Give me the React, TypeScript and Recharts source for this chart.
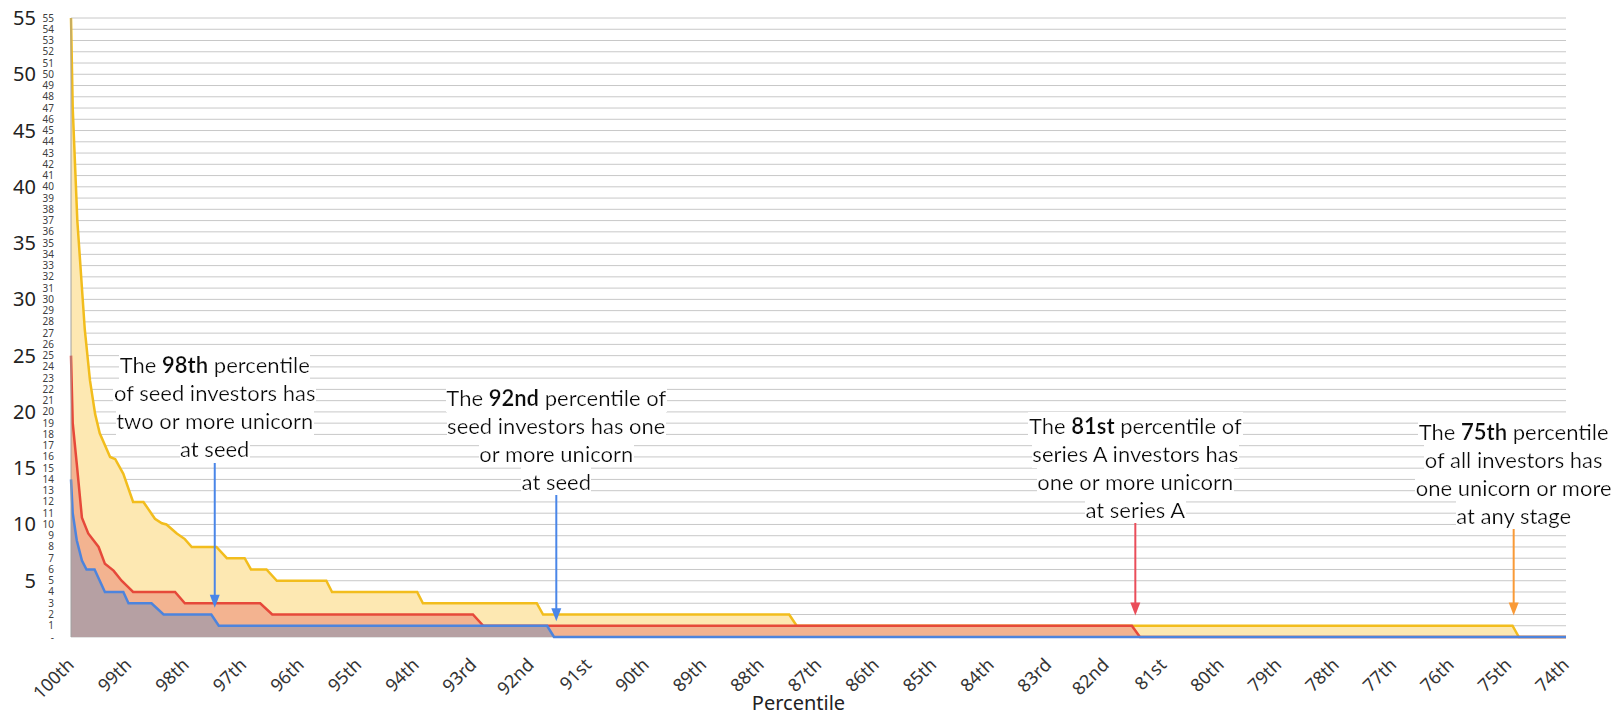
import { AreaChart, Area, XAxis, YAxis, CartesianGrid, ReferenceLine, ReferenceDot } from 'recharts';

// percentile breakpoints (x) and unicorn counts (y)
const allPct = [100, 99.97, 99.89, 99.76, 99.67, 99.58, 99.5, 99.32, 99.23, 99.09, 98.92, 98.74, 98.54, 98.42, 98.34, 98.16, 98.02, 97.9, 97.47, 97.29, 96.98, 96.87, 96.6, 96.42, 95.56, 95.46, 93.98, 93.88, 91.9, 91.79, 87.51, 87.38, 74.93, 74.82, 74];
const allVal = [55, 47, 37, 27.3, 22.8, 19.8, 18.1, 16, 15.8, 14.5, 12, 12, 10.5, 10.1, 10, 9.2, 8.7, 8, 8, 7, 7, 6, 6, 5, 5, 4, 4, 3, 3, 2, 2, 1, 1, 0, 0];

const seriesAPct = [100, 99.97, 99.9, 99.81, 99.7, 99.52, 99.41, 99.26, 99.12, 99.0, 98.92, 98.19, 98.02, 96.71, 96.5, 93.01, 92.83, 81.55, 81.41, 74];
const seriesAVal = [25, 19, 15.4, 10.6, 9.2, 8, 6.5, 5.9, 5, 4.4, 4, 4, 3, 3, 2, 2, 1, 1, 0, 0];

const seedPct = [100, 99.97, 99.9, 99.81, 99.73, 99.59, 99.41, 99.09, 99.0, 98.6, 98.39, 97.56, 97.43, 91.72, 91.6, 74];
const seedVal = [14, 11, 8.6, 6.8, 6, 6, 4, 4, 3, 3, 2, 2, 1, 1, 0, 0];

const xTicks = [100, 99, 98, 97, 96, 95, 94, 93, 92, 91, 90, 89, 88, 87, 86, 85, 84, 83, 82, 81, 80, 79, 78, 77, 76, 75, 74];
const yTicks = Array.from({ length: 56 }, (_, i) => i);

const notes = [
  { pct: 97.5, top: 24.1, arrowTop: 16.2, tip: 2.6, color: '#4a86e8', head: ['The ', '98th', ' percentile'], rest: ['of seed investors has', 'two or more unicorn', 'at seed'] },
  { pct: 91.56, top: 21.2, arrowTop: 13.4, tip: 1.4, color: '#4a86e8', head: ['The ', '92nd', ' percentile of'], rest: ['seed investors has one', 'or more unicorn', 'at seed'] },
  { pct: 81.49, top: 18.7, arrowTop: 10.8, tip: 1.9, color: '#ea4d5a', head: ['The ', '81st', ' percentile of'], rest: ['series A investors has', 'one or more unicorn', 'at series A'] },
  { pct: 74.91, top: 18.2, arrowTop: 10.2, tip: 1.9, color: '#f99a37', head: ['The ', '75th', ' percentile'], rest: ['of all investors has', 'one unicorn or more', 'at any stage'] },
];

const rowMap = new Map<number, any>();
const put = (pcts: number[], vals: number[], key: string) => {
  pcts.forEach((p, i) => {
    const row = rowMap.get(p) || { pct: p };
    row[key] = vals[i];
    rowMap.set(p, row);
  });
};
put(allPct, allVal, 'all');
put(seriesAPct, seriesAVal, 'seriesA');
put(seedPct, seedVal, 'seed');
const data = Array.from(rowMap.values()).sort((a, b) => b.pct - a.pct);

const ordinal = (n: number) => {
  const r = n % 10;
  if (r === 1 && n !== 11) return n + 'st';
  if (r === 2 && n !== 12) return n + 'nd';
  if (r === 3 && n !== 13) return n + 'rd';
  return n + 'th';
};

const FONT = '"Noto Sans", sans-serif';
const NOTE_FONT = 'Lato, sans-serif';

const XTick = ({ x, y, payload }: any) => {
  const ax = x + 4;
  const ay = y + 21;
  return (
    <text x={ax} y={ay} transform={`rotate(-45 ${ax} ${ay})`} textAnchor="end" fontSize={18} fill="#333" fontFamily={FONT}>
      {ordinal(payload.value)}
    </text>
  );
};

const YTick = ({ y, payload }: any) => {
  const v = payload.value;
  return (
    <g fontFamily={FONT}>
      <text x={54} y={y} dy={3.5} textAnchor="end" fontSize={10} fill="#404040">{v === 0 ? '-' : v}</text>
      {v > 0 && v % 5 === 0 && (
        <text x={36} y={y} dy={7} textAnchor="end" fontSize={20} fill="#222">{v}</text>
      )}
    </g>
  );
};

const noteShape = (n: any, idx: number) => (props: any) => {
  const { cx, cy } = props;
  const fid = `notebg${idx}`;
  return (
    <g fontFamily={NOTE_FONT} fontSize={22} fill="#111">
      <defs>
        <filter id={fid} x="0" y="0" width="1" height="1">
          <feFlood floodColor="#ffffff" />
          <feComposite in="SourceGraphic" operator="over" />
        </filter>
      </defs>
      <text x={cx} y={cy} dy="0.35em" textAnchor="middle" filter={`url(#${fid})`}>
        <tspan>{n.head[0]}</tspan>
        <tspan fontWeight="bold">{n.head[1]}</tspan>
        <tspan>{n.head[2]}</tspan>
      </text>
      {n.rest.map((line: string, i: number) => (
        <text key={i} x={cx} y={cy + (i + 1) * 27.9} dy="0.35em" textAnchor="middle" filter={`url(#${fid})`}>{line}</text>
      ))}
    </g>
  );
};

const headShape = (color: string) => (props: any) => {
  const { cx, cy } = props;
  return <path d={`M${cx - 5},${cy - 13} L${cx + 5},${cy - 13} L${cx},${cy} Z`} fill={color} />;
};

export default function App() {
  return (
    <div style={{ position: 'fixed', left: 0, top: 0, background: '#fff' }}>
      <AreaChart width={1618} height={715} data={data} margin={{ top: 18, right: 52, left: 0, bottom: 0 }}>
        <CartesianGrid vertical={false} stroke="#c8c8c8" strokeWidth={1} />
        <XAxis
          dataKey="pct"
          type="number"
          domain={[74, 100]}
          reversed
          ticks={xTicks}
          interval={0}
          axisLine={false}
          tickLine={false}
          height={78}
          tick={<XTick />}
          label={{ value: 'Percentile', position: 'insideBottom', offset: 5, dx: -20, fontSize: 20, fill: '#222', fontFamily: FONT }}
        />
        <YAxis
          type="number"
          domain={[0, 55]}
          ticks={yTicks}
          interval={0}
          width={71}
          axisLine={{ stroke: '#a0a0a0' }}
          tickLine={false}
          tick={<YTick />}
        />
        <Area type="linear" dataKey="all" stroke="#f2bd1d" strokeWidth={2.5} fill="#fde8b2" fillOpacity={1} connectNulls dot={false} activeDot={false} isAnimationActive={false} />
        <Area type="linear" dataKey="seriesA" stroke="#e6493a" strokeWidth={2.5} fill="#f3b390" fillOpacity={1} connectNulls dot={false} activeDot={false} isAnimationActive={false} />
        <Area type="linear" dataKey="seed" stroke="#4d84dd" strokeWidth={2.5} fill="#b6a0a3" fillOpacity={1} connectNulls dot={false} activeDot={false} isAnimationActive={false} />
        {notes.map((n, i) => (
          <ReferenceLine key={'l' + i} segment={[{ x: n.pct, y: n.arrowTop }, { x: n.pct, y: n.tip + 0.8 }]} stroke={n.color} strokeWidth={2} />
        ))}
        {notes.map((n, i) => (
          <ReferenceDot key={'h' + i} x={n.pct} y={n.tip} r={6} shape={headShape(n.color)} />
        ))}
        {notes.map((n, i) => (
          <ReferenceDot key={'t' + i} x={n.pct} y={n.top} r={6} shape={noteShape(n, i)} />
        ))}
      </AreaChart>
    </div>
  );
}
